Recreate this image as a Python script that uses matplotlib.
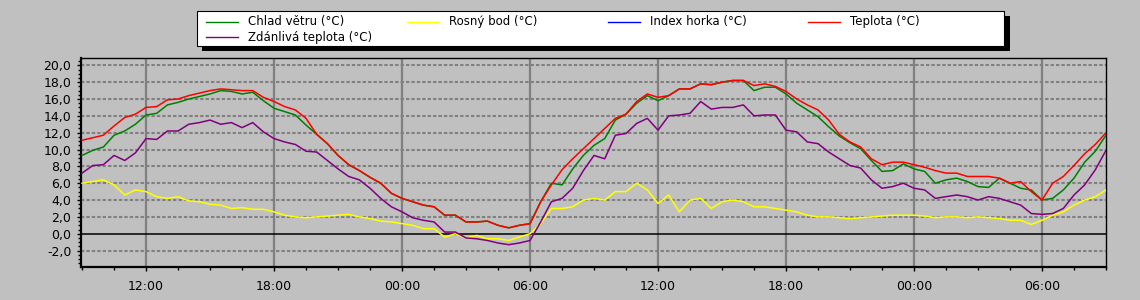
import matplotlib
matplotlib.use("Agg")
import matplotlib.pyplot as plt
import matplotlib.dates as mdates
from matplotlib.patches import Rectangle
from matplotlib.lines import Line2D
from matplotlib.ticker import MultipleLocator, FuncFormatter
import pandas as pd

# half-hour samples starting 09:00 on day 1
start = "2024-03-10 09:00"
times = pd.date_range(start, periods=97, freq="30min")

teplota = [
    11.1, 11.4, 11.7, 12.8, 13.8, 14.2, 15.0, 15.1, 15.9, 16.0, 16.4, 16.7, 17.0, 17.2, 17.1, 17.0, 17.0, 16.2, 15.7, 15.1, 14.7, 13.7,
    11.8, 10.7, 9.3, 8.2, 7.5, 6.7, 6.0, 4.8, 4.2, 3.8, 3.4, 3.2, 2.2, 2.2, 1.4, 1.4, 1.5, 1.0, 0.7, 1.0,
    1.2, 3.8, 5.8, 7.6, 8.9, 10.1, 11.3, 12.5, 13.7, 14.2, 15.7, 16.6, 16.2, 16.4, 17.2, 17.2, 17.8, 17.7, 18.0, 18.2,
    18.2, 17.6, 17.8, 17.5, 16.9, 16.0, 15.3, 14.7, 13.5, 11.8, 10.9, 10.3, 8.9, 8.2, 8.5, 8.5, 8.2, 7.9, 7.5, 7.2, 7.2, 6.8,
    6.8, 6.8, 6.6, 6.0, 6.2, 5.0, 4.0, 6.0, 6.8, 8.1, 9.5, 10.6, 12.0,
]
chlad_vetru = [
    9.3, 9.9, 10.3, 11.7, 12.2, 13.0, 14.1, 14.3, 15.3, 15.6, 16.0, 16.3, 16.6, 17.0, 16.9, 16.6, 16.8, 15.8, 14.9, 14.5, 14.1, 12.9,
    11.8, 10.7, 9.3, 8.2, 7.5, 6.7, 6.0, 4.8, 4.2, 3.8, 3.4, 3.2, 2.2, 2.2, 1.4, 1.4, 1.5, 1.0, 0.7, 1.0,
    1.2, 3.8, 6.0, 5.8, 7.7, 9.3, 10.5, 11.3, 13.5, 14.2, 15.5, 16.4, 15.8, 16.4, 17.2, 17.2, 17.8, 17.7, 18.0, 18.2,
    18.2, 17.0, 17.4, 17.4, 16.6, 15.5, 14.7, 13.9, 12.7, 11.6, 10.8, 10.1, 8.7, 7.4, 7.5, 8.3, 7.7, 7.4, 6.0, 6.4, 6.6, 6.2,
    5.6, 5.5, 6.6, 6.0, 5.4, 5.2, 4.0, 4.2, 5.2, 6.6, 8.5, 9.8, 11.7,
]
zdanliva = [
    7.2, 8.1, 8.2, 9.3, 8.7, 9.6, 11.3, 11.2, 12.2, 12.2, 13.0, 13.2, 13.5, 13.0, 13.2, 12.6, 13.2, 12.1, 11.3, 10.9, 10.6, 9.8,
    9.7, 8.7, 7.7, 6.8, 6.4, 5.4, 4.2, 3.2, 2.6, 1.9, 1.6, 1.4, 0.2, 0.2, -0.5, -0.6, -0.8, -1.1, -1.3, -1.1,
    -0.8, 1.4, 3.8, 4.2, 5.4, 7.5, 9.3, 8.9, 11.7, 11.9, 13.1, 13.7, 12.3, 14.0, 14.1, 14.3, 15.7, 14.8, 15.0, 15.0,
    15.3, 14.0, 14.1, 14.1, 12.3, 12.1, 10.9, 10.7, 9.7, 8.9, 8.1, 7.8, 6.4, 5.4, 5.6, 6.0, 5.4, 5.2, 4.2, 4.4, 4.6, 4.4,
    4.0, 4.4, 4.2, 3.8, 3.4, 2.4, 2.3, 2.4, 3.0, 4.6, 5.8, 7.6, 9.9,
]
rosny_bod = [
    6.0, 6.2, 6.4, 5.8, 4.6, 5.2, 5.0, 4.4, 4.2, 4.4, 3.9, 3.8, 3.5, 3.4, 3.0, 3.1, 2.9, 2.9, 2.6, 2.2, 2.0, 1.9,
    2.0, 2.1, 2.2, 2.3, 2.0, 1.8, 1.5, 1.4, 1.2, 1.0, 0.6, 0.6, -0.4, 0.0, -0.5, -0.2, -0.6, -0.6, -0.8, -0.4,
    0.0, 1.2, 3.0, 3.0, 3.2, 4.0, 4.2, 4.0, 5.0, 5.0, 6.0, 5.2, 3.6, 4.6, 2.6, 4.0, 4.2, 3.0, 3.8, 4.0,
    3.8, 3.2, 3.2, 3.0, 2.8, 2.6, 2.2, 2.0, 2.0, 1.9, 1.8, 1.9, 2.0, 2.1, 2.2, 2.2, 2.2, 2.1, 1.9, 2.0, 2.0, 1.9,
    2.0, 1.9, 1.8, 1.6, 1.6, 1.1, 1.6, 2.2, 2.6, 3.4, 4.0, 4.4, 5.2,
]
index_horka = []  # no data in this period

labels = ["Chlad větru (°C)", "Rosný bod (°C)", "Index horka (°C)", "Teplota (°C)", "Zdánlivá teplota (°C)"]
colors = ["#008000", "#FFFF00", "#0000FF", "#FF0000", "#800080"]
series = [chlad_vetru, rosny_bod, index_horka, teplota, zdanliva]

BG = "#C0C0C0"
GRID = "#808080"
W, H = 1140, 300

plt.rcParams['font.family'] = ['DejaVu Sans']
fig = plt.figure(figsize=(W / 100, H / 100), dpi=100, facecolor=BG)
ax = fig.add_axes([81 / W, 1 - 267 / H, (1106 - 81) / W, (267 - 58) / H])
ax.set_facecolor(BG)

# horizontal dotted grid + zero line
for v in range(-2, 21, 2):
    if v == 0:
        ax.axhline(0, color="black", lw=1.1, zorder=1)
    else:
        ax.axhline(v, color=GRID, lw=1.5, linestyle=(0, (1.6, 1.0)), zorder=1)

for vals, col in zip(series, colors):
    if len(vals):
        ax.plot(times, vals, color=col, lw=1.1, zorder=3)

t0 = pd.Timestamp(start)
ax.set_xlim(t0 - pd.Timedelta(minutes=3), t0 + pd.Timedelta(hours=48))
ax.set_ylim(-3.95, 20.87)

ax.xaxis.set_major_locator(mdates.HourLocator(byhour=[0, 6, 12, 18]))
ax.xaxis.set_major_formatter(mdates.DateFormatter("%H:%M"))
ax.xaxis.set_minor_locator(MultipleLocator(1.5 / 24))
ax.grid(axis="x", which="major", color=GRID, lw=1.6, linestyle="-", zorder=2)
ax.set_axisbelow(True)

ax.yaxis.set_major_locator(MultipleLocator(2))
ax.yaxis.set_minor_locator(MultipleLocator(0.5))
ax.yaxis.set_major_formatter(FuncFormatter(lambda v, p: f"{v:.1f}".replace(".", ",")))

ax.tick_params(axis="both", which="major", direction="out", length=3, width=1, labelsize=9, color="black")
ax.tick_params(axis="both", which="minor", direction="out", length=2, width=1, color="black")
ax.tick_params(axis="x", pad=6)
ax.tick_params(axis="y", pad=4)

for side in ["left", "bottom"]:
    ax.spines[side].set_linewidth(1.6)
for side in ["top", "right"]:
    ax.spines[side].set_linewidth(1.0)

# legend box with hard black shadow
def fx(px):
    return px / W

def fy(py):
    return 1 - py / H

fig.add_artist(Rectangle((fx(202), fy(51)), fx(1010) - fx(202), fy(16) - fy(51),
                         transform=fig.transFigure, facecolor="black", edgecolor="none"))
fig.add_artist(Rectangle((fx(197), fy(46)), fx(1004) - fx(197), fy(11) - fy(46),
                         transform=fig.transFigure, facecolor="white", edgecolor="black", lw=0.8))
col_x = [206, 407, 608, 808]
row_y = [22, 37]
for i, (lab, col) in enumerate(zip(labels, colors)):
    cx = col_x[i % 4]
    ry = row_y[i // 4]
    fig.add_artist(Line2D([fx(cx), fx(cx + 32)], [fy(ry), fy(ry)], transform=fig.transFigure,
                          color=col, lw=1.0))
    fig.text(fx(cx + 42), fy(ry), lab, fontsize=8.5, va="center", ha="left", color="black")

fig.savefig("out.png", dpi=100, facecolor=BG)
